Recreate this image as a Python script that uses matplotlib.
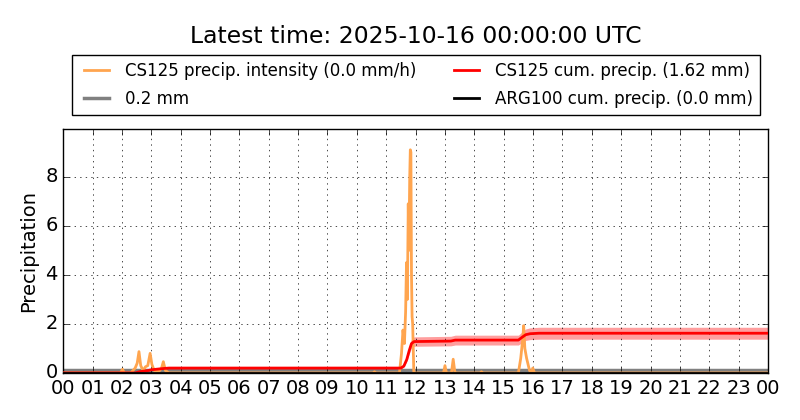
import numpy as np
import matplotlib
matplotlib.use("Agg")
import matplotlib.pyplot as plt

plt.style.use("classic")

# ── data (hours since 2025-10-15 00:00 UTC) ────────────────────────────────
int_t = [0.0, 1.95, 2.02, 2.08, 2.3, 2.45, 2.52, 2.58, 2.64, 2.72, 2.8, 2.88,
         2.96, 3.02, 3.1, 3.25, 3.35, 3.41, 3.48, 3.6, 10.55, 10.6, 10.65,
         11.45, 11.52, 11.57, 11.62, 11.66, 11.69, 11.72, 11.75, 11.77, 11.8,
         11.82, 11.84, 11.86, 11.88, 11.9, 11.94, 12.95, 13.0, 13.05, 13.15,
         13.22, 13.28, 13.34, 13.4, 14.2, 14.24, 14.3, 15.5, 15.58, 15.65,
         15.68, 15.72, 15.78, 15.82, 15.88, 15.95, 15.99, 16.05, 24.0]
int_v = [0.0, 0.0, 0.15, 0.0, 0.0, 0.2, 0.4, 0.87, 0.3, 0.1, 0.25, 0.3,
         0.8, 0.35, 0.1, 0.05, 0.2, 0.46, 0.1, 0.0, 0.0, 0.05, 0.0,
         0.0, 0.8, 1.75, 1.2, 2.5, 4.5, 3.0, 6.9, 5.0, 8.0,
         9.1, 9.0, 4.0, 2.3, 2.0, 0.0, 0.0, 0.3, 0.0, 0.0,
         0.0, 0.56, 0.0, 0.0, 0.0, 0.05, 0.0, 0.0, 0.6, 1.4,
         1.93, 1.0, 0.6, 0.4, 0.1, 0.0, 0.2, 0.0, 0.0]

cum_t = [0.0, 2.45, 2.6, 2.9, 3.0, 3.4, 3.6, 11.5, 11.6, 11.7, 11.78, 11.86,
         11.95, 13.2, 13.35, 15.5, 15.62, 15.75, 15.9, 16.2, 24.0]
cum_v = [0.0, 0.0, 0.05, 0.1, 0.13, 0.18, 0.2, 0.2, 0.28, 0.55, 0.9, 1.2,
         1.28, 1.3, 1.34, 1.34, 1.45, 1.56, 1.6, 1.62, 1.62]

ref_level = 0.12          # "0.2 mm" reference line as drawn
arg_t = [0.0, 24.0]
arg_v = [0.0, 0.0]

hours = list(range(25))
hour_labels = ["%02d" % (h % 24) for h in hours]

ORANGE = "#ffa54f"
RED = "#ff0000"

# ── figure ────────────────────────────────────────────────────────────────
fig = plt.figure(figsize=(8, 4.2), dpi=100, facecolor="white")
ax = fig.add_axes([0.079, 0.112, 0.881, 0.581])
ax.set_facecolor("white")

cum = np.array(cum_v)
ax.fill_between(cum_t, cum * 0.85, cum * 1.15, color=RED, alpha=0.38,
                linewidth=0, zorder=2)
l1, = ax.plot(int_t, int_v, color=ORANGE, linewidth=2, zorder=3,
              label="CS125 precip. intensity (0.0 mm/h)")
l2 = ax.axhline(ref_level, color="#808080", linewidth=2.5, zorder=1,
                label="0.2 mm")
l3, = ax.plot(cum_t, cum_v, color=RED, linewidth=2, zorder=4,
              label="CS125 cum. precip. (1.62 mm)")
l4, = ax.plot(arg_t, arg_v, color="black", linewidth=2, zorder=5,
              label="ARG100 cum. precip. (0.0 mm)")

ax.set_xlim(0, 24)
ax.set_ylim(0, 9.95)
ax.set_xticks(hours)
ax.set_xticklabels(hour_labels)
ax.set_yticks([0, 2, 4, 6, 8])
ax.tick_params(labelsize=14)
ax.grid(True, linestyle=":", color="black")
ax.set_ylabel("Precipitation", fontsize=14)

fig.legend(handles=[l1, l2, l3, l4], ncol=2, fontsize=12,
           loc="upper center", bbox_to_anchor=(0.52, 0.868),
           frameon=True, handlelength=2.1, columnspacing=1.9,
           borderaxespad=0, handletextpad=0.7, borderpad=0.4,
           labelspacing=0.6)

fig.suptitle("Latest time: 2025-10-16 00:00:00 UTC", fontsize=16.9,
             x=0.52, y=0.94)

fig.savefig("out.png", dpi=100, facecolor="white")
